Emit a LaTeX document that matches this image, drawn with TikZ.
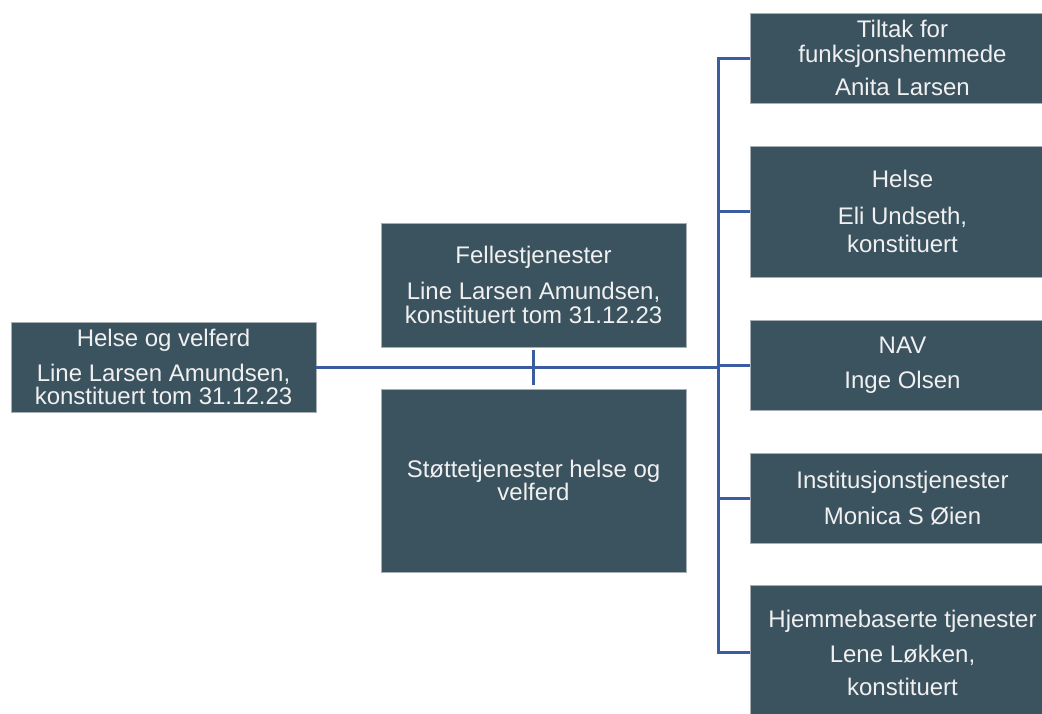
\documentclass[tikz,border=0pt]{standalone}
\usepackage{fontspec}
\setmainfont{Liberation Sans}
\definecolor{boxfill}{HTML}{3B525F}
\definecolor{boxline}{HTML}{A7AFB5}
\definecolor{linkblue}{HTML}{3A5CA0}
\begin{document}
\begin{tikzpicture}[x=1pt,y=-1pt,
        unit/.style={rectangle,fill=boxfill,draw=boxline,line width=0.8pt,
            minimum width=305pt,inner sep=0pt,align=center,text=white!94!black,
            font=\fontsize{24}{23}\selectfont},
        link/.style={draw=linkblue,line width=3pt}]
    \useasboundingbox[fill=white] (0,0) rectangle (1042,713);
    \clip (0,0) rectangle (1042,713);
    % left and middle
    \node[unit,minimum height=90pt] (hv) at (163.5,367)
        {Helse og velferd\\[12pt] Line Larsen Amundsen,\\ konstituert tom 31.12.23};
    \node[unit,minimum height=124pt] (fell) at (533.5,285)
        {Fellestjenester\\[13pt] Line Larsen Amundsen,\\[1pt] konstituert tom 31.12.23};
    \node[unit,minimum height=183pt] (stotte) at (533.5,480.5)
        {Støttetjenester helse og\\ velferd};
    % right column
    \node[unit,minimum height=90pt] (tiltak) at (902.5,58)
        {Tiltak for\\[2pt] funksjonshemmede\\[10pt] Anita Larsen};
    \node[unit,minimum height=131pt] (helse) at (902.5,211.5)
        {Helse\\[14pt] Eli Undseth,\\[5pt] konstituert};
    \node[unit,minimum height=90pt] (nav) at (902.5,365)
        {NAV\\[12pt] Inge Olsen};
    \node[unit,minimum height=90pt] (inst) at (902.5,498)
        {Institusjonstjenester\\[13pt] Monica S Øien};
    \node[unit,minimum height=135pt] (hjem) at (902.5,652.5)
        {Hjemmebaserte tjenester\\[12pt] Lene Løkken,\\[10pt] konstituert};
    \coordinate (trunk) at (718,368);
    \draw[link] (tiltak.west) -- (tiltak.west -| trunk) |- (hjem.west);
    \draw[link] (helse.west) -- (helse.west -| trunk);
    \draw[link] (nav.west) -- (nav.west -| trunk);
    \draw[link] (inst.west) -- (inst.west -| trunk);
    \draw[link] (hv.east) -- (hv.east -| trunk);
    \draw[link,shorten <=3pt,shorten >=4pt] (fell.south) -- (stotte.north);
\end{tikzpicture}
\end{document}
